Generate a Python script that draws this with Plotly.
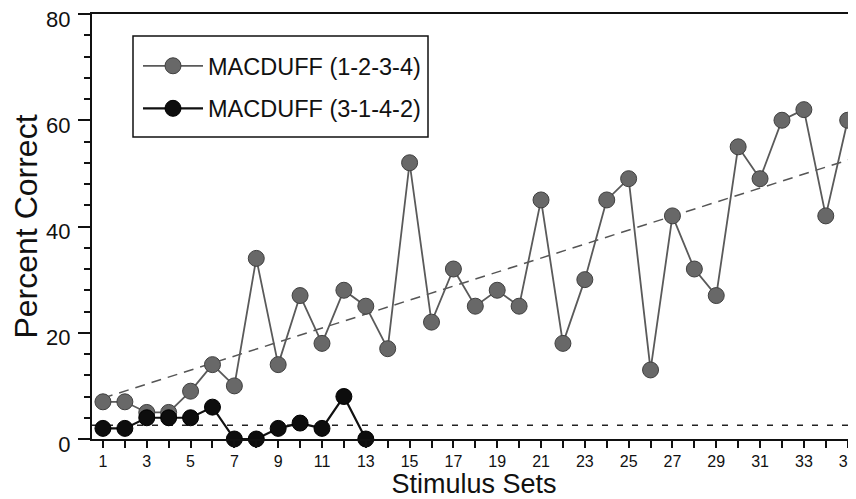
import plotly.graph_objects as go

# ---- data ----
stimulus_sets_a = list(range(1, 36))
macduff_1234 = [7, 7, 5, 5, 9, 14, 10, 34, 14, 27, 18, 28, 25, 17, 52, 22, 32, 25, 28, 25,
                45, 18, 30, 45, 49, 13, 42, 32, 27, 55, 49, 60, 62, 42, 60]
stimulus_sets_b = list(range(1, 14))
macduff_3142 = [2, 2, 4, 4, 4, 6, 0, 0, 2, 3, 2, 8, 0]

trend_a_x = [1, 35.38]
trend_a_y = [7.7, 53.0]
trend_b_x = [0.5, 35.38]
trend_b_y = [2.6, 2.6]

y_tick_vals = [0, 20, 40, 60, 80]
x_tick_vals = list(range(1, 36, 2))
x_tick_text = [str(v) for v in x_tick_vals]

FONT = "Liberation Sans, Arial, Helvetica, sans-serif"

# page body has an 8px default margin; figure is sized so the plot area lands at
# screen x 92..856, y 14..439
PAGE_OFF = 8
FIG_W, FIG_H = 856 - PAGE_OFF, 499 - PAGE_OFF
M_L, M_T = 92 - PAGE_OFF, 14 - PAGE_OFF
PLOT_W, PLOT_H = 764, 425
M_R = FIG_W - M_L - PLOT_W
M_B = FIG_H - M_T - PLOT_H


def px_to_paper(sx, sy):
    return (sx - 92) / PLOT_W, (439 - sy) / PLOT_H


fig = go.Figure()

fig.add_trace(go.Scatter(
    x=trend_a_x, y=trend_a_y, mode="lines", showlegend=False, hoverinfo="skip",
    line=dict(color="#555555", width=1.5, dash="10px,7px")))
fig.add_trace(go.Scatter(
    x=trend_b_x, y=trend_b_y, mode="lines", showlegend=False, hoverinfo="skip",
    line=dict(color="#222222", width=1.5, dash="6px,9px")))

fig.add_trace(go.Scatter(
    x=stimulus_sets_a, y=macduff_1234, mode="lines+markers", name="MACDUFF (1-2-3-4)",
    legendgroup="a", cliponaxis=False,
    line=dict(color="#5a5a5a", width=1.8),
    marker=dict(size=16, color="#686868", line=dict(color="#404040", width=1))))
fig.add_trace(go.Scatter(
    x=stimulus_sets_b, y=macduff_3142, mode="lines+markers", name="MACDUFF (3-1-4-2)",
    legendgroup="b", cliponaxis=False,
    line=dict(color="#111111", width=2.2),
    marker=dict(size=16, color="#0d0d0d", line=dict(color="#000000", width=1))))

# legend frame
bx0, by1 = px_to_paper(133, 36)
bx1, by0 = px_to_paper(428, 137)
fig.add_shape(type="rect", xref="paper", yref="paper", x0=bx0, x1=bx1, y0=by0, y1=by1,
              line=dict(color="#111111", width=1.5), fillcolor="white", layer="below")

lx, ly = px_to_paper(138, 44)

fig.update_layout(
    width=FIG_W, height=FIG_H,
    margin=dict(l=M_L, r=M_R, t=M_T, b=M_B, autoexpand=False),
    paper_bgcolor="white", plot_bgcolor="white",
    font=dict(family=FONT, color="#111111"),
    legend=dict(
        x=lx, y=ly, xanchor="left", yanchor="top",
        bgcolor="rgba(0,0,0,0)", borderwidth=0,
        font=dict(size=23.5, family=FONT, color="#111111"),
        tracegroupgap=9, itemwidth=60,
    ),
    xaxis=dict(
        range=[0.5, 35.38], showgrid=False, zeroline=False, automargin=False,
        showline=True, linecolor="#111111", linewidth=2, mirror=True,
        tickmode="array", tickvals=x_tick_vals, ticktext=x_tick_text,
        ticks="outside", ticklen=7, tickwidth=1.5, tickcolor="#111111",
        tickfont=dict(size=16, family=FONT, color="#111111"),
        ticklabeloverflow="allow",
        minor=dict(dtick=1, tick0=0, ticks="outside", ticklen=7, tickwidth=1.5, tickcolor="#111111", showgrid=False),
        title=dict(text="Stimulus Sets", font=dict(size=27, family=FONT, color="#111111"), standoff=2),
    ),
    yaxis=dict(
        range=[0, 80], showgrid=False, zeroline=False, automargin=False,
        showline=True, linecolor="#111111", linewidth=2,
        tickmode="array", tickvals=y_tick_vals,
        ticks="outside", ticklen=12, tickwidth=1.5, tickcolor="#111111",
        tickfont=dict(size=22, family=FONT, color="#111111"),
        ticklabelstandoff=3, ticklabeloverflow="allow", ticklabelshift=5,
        minor=dict(dtick=4, tick0=0, ticks="outside", ticklen=6, tickwidth=1.5, tickcolor="#111111", showgrid=False),
        title=dict(text="Percent Correct", font=dict(size=32, family=FONT, color="#111111"), standoff=4),
    ),
)

fig.write_html("out.html")
